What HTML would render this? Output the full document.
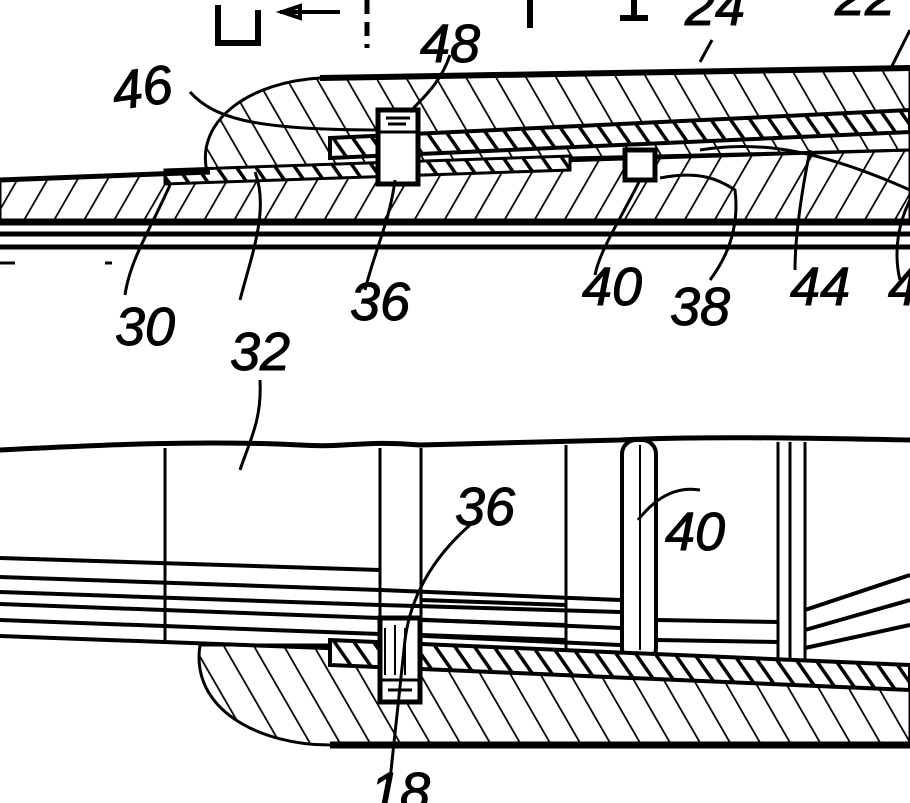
<!DOCTYPE html>
<html><head><style>
html,body{margin:0;padding:0;background:#fff;width:910px;height:803px;overflow:hidden}
svg{display:block}
text{font-family:"Liberation Sans",sans-serif;font-style:italic;font-size:54px;fill:#000;stroke:#000;stroke-width:1}
</style></head><body>
<svg width="910" height="803" viewBox="0 0 910 803" xmlns="http://www.w3.org/2000/svg">
<defs>
<pattern id="hb" patternUnits="userSpaceOnUse" width="26" height="26" patternTransform="rotate(-30)">
<line x1="0" y1="0" x2="0" y2="26" stroke="#000" stroke-width="3.5"/></pattern>
<pattern id="hf" patternUnits="userSpaceOnUse" width="26" height="26" patternTransform="rotate(30)">
<line x1="0" y1="0" x2="0" y2="26" stroke="#000" stroke-width="3.5"/></pattern>
<pattern id="hs" patternUnits="userSpaceOnUse" width="16" height="16" patternTransform="rotate(-35)">
<line x1="0" y1="0" x2="0" y2="16" stroke="#000" stroke-width="7"/></pattern>
</defs>
<g fill="none" stroke="#000" stroke-width="3">
<!-- top marks -->
<path d="M218 5 V43 H258 V10" stroke-width="6"/>
<path d="M280 12 H340 M282 12 l18 -6 v12 z" stroke-width="4"/>
<path d="M367 0 V48" stroke-width="5" stroke-dasharray="14 8"/>
<path d="M530 0 V28" stroke-width="6"/>
<path d="M620 18 H648 M634 0 V18" stroke-width="6"/>
<path d="M712 40 L700 62 M910 30 L890 70" stroke-width="3"/>
<!-- upper body -->
<path d="M207 172 C195 120 250 82 320 78 L910 68 V150 L570 158 L330 165 L207 172 Z" fill="url(#hb)" stroke-width="3"/>
<path d="M320 78 L910 68" stroke-width="6"/>
<!-- tube -->
<path d="M0 180 L210 172 L910 150 V222 H0 Z" fill="url(#hf)" stroke-width="3"/>
<!-- upper sleeve band -->
<path d="M330 138 L910 110 V132 L330 158 Z" fill="#fff" stroke="none"/>
<path d="M330 138 L910 110 V132 L330 158 Z" fill="url(#hs)" stroke-width="4"/>
<!-- lower sleeve band -->
<path d="M165 170 L570 156 L570 170 L165 184 Z" fill="#fff" stroke="none"/>
<path d="M165 170 L570 156 L570 170 L165 184 Z" fill="url(#hs)" stroke-width="3"/>
<path d="M0 180 L210 172" stroke-width="5"/>
<path d="M0 222 H910" stroke-width="7"/>
<path d="M0 234 H910" stroke-width="5"/>
<path d="M0 247 H910" stroke-width="5"/>
<path d="M0 263 H15 M105 263 H112" stroke-width="3"/>
<path d="M700 150 C760 140 820 150 910 190" stroke-width="3"/>
<!-- rings -->
<rect x="378" y="110" width="40" height="74" fill="#fff" stroke-width="5"/>
<path d="M378 132 H418 M386 118 H410 M388 124 H406" stroke-width="3"/>
<rect x="625" y="150" width="30" height="30" fill="#fff" stroke-width="5"/>
<!-- leaders upper -->
<path d="M190 92 C215 120 260 130 380 130 M450 55 C440 85 420 100 410 112 M170 185 C150 230 130 260 125 295 M255 172 C270 210 250 260 240 300 M395 180 C390 220 375 250 365 290 M640 180 C620 220 600 250 595 275 M660 178 C700 170 720 180 735 190 C740 230 725 260 710 280 M810 150 C800 200 795 240 795 270 M910 200 C895 230 895 260 900 280"/>
<!-- lower: outer profile -->
<path d="M0 450 C100 445 200 440 300 445 C350 448 360 440 420 445 L620 440 C700 436 800 438 910 440" stroke-width="5"/>
<path d="M165 448 V640 M380 448 V640 M421 448 V640 M566 445 V660 M778 442 V660 M790 442 V660 M805 442 V660" stroke-width="3"/>
<rect x="622" y="440" width="34" height="222" rx="14" stroke-width="4"/>
<path d="M640 445 V650" stroke-width="2"/>
<g stroke-width="4">
<path d="M0 558 L380 570 M0 577 L380 590 L620 600 M0 592 L380 605 L620 612 M0 604 L380 618 L620 628 M0 620 L380 634 L620 645 M0 636 L380 650 L620 660"/>
<path d="M421 600 L566 605 M421 620 L566 625 M421 635 L566 640 M656 620 L778 622 M656 640 L778 642"/>
<path d="M805 610 L910 575 M805 630 L910 600 M805 648 L910 625"/>
</g>
<!-- lower body -->
<path d="M200 645 C190 710 260 745 330 745 L910 745 V690 L330 665 L330 645 Z" fill="url(#hb)" stroke-width="3"/>
<!-- lower sleeve -->
<path d="M330 640 L910 665 V690 L330 665 Z" fill="#fff" stroke="none"/>
<path d="M330 640 L910 665 V690 L330 665 Z" fill="url(#hs)" stroke-width="4"/>
<path d="M330 745 L910 745" stroke-width="7"/>
<rect x="380" y="618" width="40" height="84" fill="#fff" stroke-width="5"/>
<path d="M380 680 H420 M388 690 H412" stroke-width="3"/>
<path d="M385 628 V675 M395 625 V675 M405 628 V675" stroke-width="2"/>
<!-- lower leaders -->
<path d="M260 380 C262 420 250 440 240 470 M470 525 C430 560 410 600 405 640 L390 780 M700 490 C670 485 650 505 638 520"/>
</g>
<text x="115" y="110" transform="rotate(-8 115 110)">46</text>
<text x="420" y="62">48</text>
<text x="685" y="25">24</text>
<text x="835" y="15">22</text>
<text x="115" y="345">30</text>
<text x="230" y="370">32</text>
<text x="350" y="320">36</text>
<text x="582" y="305">40</text>
<text x="670" y="325">38</text>
<text x="790" y="305">44</text>
<text x="888" y="305">4</text>
<text x="455" y="525">36</text>
<text x="665" y="550">40</text>
<text x="370" y="810">18</text>
</svg>
</body></html>
